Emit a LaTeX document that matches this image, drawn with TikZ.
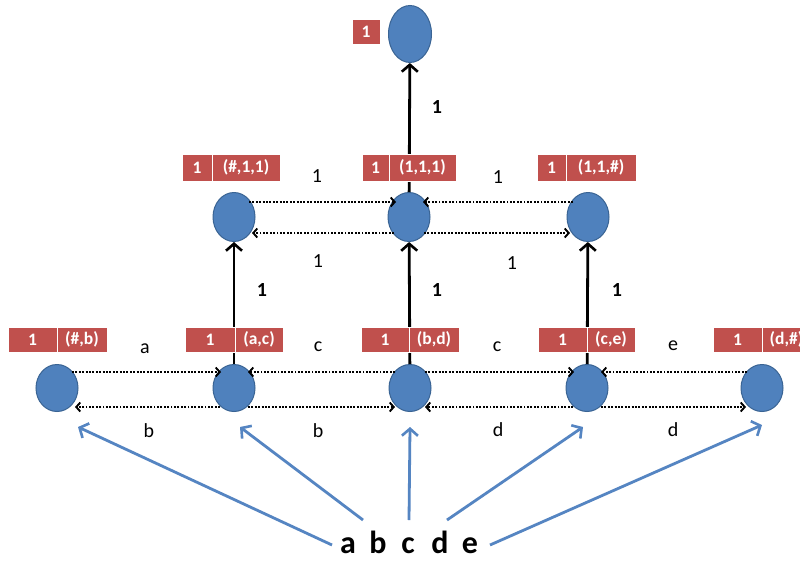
\documentclass[tikz,border=0pt]{standalone}
\usepackage{fontspec}
\setmainfont{Carlito}
\usetikzlibrary{arrows.meta,shapes.geometric}
\definecolor{nodeblue}{HTML}{4F81BD}
\definecolor{nodeedge}{HTML}{3A6494}
\definecolor{tagred}{HTML}{C0504D}
\definecolor{inputblue}{HTML}{5585C2}

% one red tag with two cells: name, left x, split x, right x, centre y, height, right text
\newcommand\maketag[7]{%
  \node[tag, minimum width={(#3-#2)*1pt}, minimum height=#6pt] (#1l) at ({(#2+#3)/2},#5) {1};
  \node[tag, minimum width={(#4-#3)*1pt}, minimum height=#6pt] (#1r) at ({(#3+#4)/2},#5) {#7};
}

\begin{document}
\begin{tikzpicture}[x=1pt,y=-1pt,
  vertex/.style={ellipse, fill=nodeblue, draw=nodeedge, line width=1pt,
    minimum width=42pt, minimum height=47pt, inner sep=0pt},
  tag/.style={rectangle, fill=tagred, draw=white, line width=0.6pt, text=white,
    font=\bfseries\fontsize{17.5}{17.5}\selectfont, inner sep=0pt},
  msg/.style={line width=2.7pt, dash pattern=on 1.9pt off 1.5pt,
    -{Straight Barb[length=4pt,width=9pt,line width=1.9pt]}},
  lift/.style={line width=2.8pt, -{Straight Barb[length=7pt,width=16pt,line width=2.6pt]}},
  feed/.style={draw=inputblue, line width=2.8pt,
    -{Straight Barb[length=7pt,width=16pt,line width=2.6pt]}},
  lbl/.style={font=\fontsize{20}{20}\selectfont, inner sep=0pt},
  blbl/.style={font=\bfseries\fontsize{20}{20}\selectfont, inner sep=0pt},
  letter/.style={font=\bfseries\fontsize{32}{32}\selectfont, inner sep=0pt, anchor=base}]

\useasboundingbox (0,0) rectangle (800,560);
\fill[white] (0,0) rectangle (800,560);
\clip (0,0) rectangle (800,560);

% vertices
\node[vertex] (n0) at (57,388) {};
\node[vertex] (n1) at (234,388) {};
\node[vertex] (n2) at (410,388) {};
\node[vertex] (n3) at (587,388) {};
\node[vertex] (n4) at (762,388) {};
\node[vertex, minimum height=49pt] (m0) at (234,217) {};
\node[vertex, minimum height=49pt] (m1) at (409,217) {};
\node[vertex, minimum height=49pt] (m2) at (588,217) {};
\node[vertex, minimum width=43pt, minimum height=57pt] (r) at (410,34) {};

% messages along the lower row
\draw[msg] ([shift={(15,-16)}]n0.center) -- ([shift={(-13,-16)}]n1.center);
\draw[msg] ([shift={(-15,-16)}]n2.center) -- ([shift={(14,-16)}]n1.center);
\draw[msg] ([shift={(15,-16)}]n2.center) -- ([shift={(-13,-16)}]n3.center);
\draw[msg] ([shift={(-15,-16)}]n4.center) -- ([shift={(14,-16)}]n3.center);
\draw[msg] ([shift={(-14,19)}]n1.center) -- ([shift={(18,19)}]n0.center);
\draw[msg] ([shift={(14,19)}]n1.center) -- ([shift={(-15,19)}]n2.center);
\draw[msg] ([shift={(-14,19)}]n3.center) -- ([shift={(15,19)}]n2.center);
\draw[msg] ([shift={(14,19)}]n3.center) -- ([shift={(-16,19)}]n4.center);

% messages along the middle row
\draw[msg] ([shift={(15,-15)}]m0.center) -- ([shift={(-13,-15)}]m1.center);
\draw[msg] ([shift={(-15,-15)}]m2.center) -- ([shift={(14,-15)}]m1.center);
\draw[msg] ([shift={(-15,16)}]m1.center) -- ([shift={(18,16)}]m0.center);
\draw[msg] ([shift={(15,16)}]m1.center) -- ([shift={(-18,16)}]m2.center);

% message labels
\node[lbl] (la1) at (145,349) {a};
\node[lbl] (lc1) at (318,347) {c};
\node[lbl] (lc2) at (497,347) {c};
\node[lbl] (le1) at (673,346) {e};
\node[lbl] (lb1) at (149,431) {b};
\node[lbl] (lb2) at (318,431) {b};
\node[lbl] (ld1) at (498,430) {d};
\node[lbl] (ld2) at (673,430) {d};
\node[lbl] (u1) at (317,176) {1};
\node[lbl] (u2) at (498,177) {1};
\node[lbl] (w1) at (318,261) {1};
\node[lbl] (w2) at (512,263) {1};

% upward aggregation
\draw[lift] (n1) -- (m0);
\draw[lift] (n2) -- (m1);
\draw[lift] (n3) -- (m2);
\draw[lift] (m1) -- (r);
\node[blbl] (k1) at (262,290) {1};
\node[blbl] (k2) at (437,290) {1};
\node[blbl] (k3) at (617,290) {1};
\node[blbl] (k4) at (437,107) {1};

% tags
\maketag{t0}{8}{57}{107}{339.5}{25}{(\#,b)}
\maketag{t1}{185}{235}{283}{339.5}{25}{(a,c)}
\maketag{t2}{361}{409}{459}{339.5}{25}{(b,d)}
\maketag{t3}{538}{587}{635}{339.5}{25}{(c,e)}
\maketag{t4}{713}{762}{811}{339.5}{25}{(d,\#)}
\maketag{s0}{182}{212}{280}{167.5}{27}{(\#,1,1)}
\maketag{s1}{362}{389}{456}{167.5}{27}{(1,1,1)}
\maketag{s2}{537}{566}{636}{167.5}{27}{(1,1,\#)}
\node[tag, minimum width=28pt, minimum height=25pt] (top) at (366,31.5) {1};

% input string
\node[letter] (ia) at (348,553) {a};
\node[letter] (ib) at (378,553) {b};
\node[letter] (ic) at (408,553) {c};
\node[letter] (id) at (440,553) {d};
\node[letter] (ie) at (470,553) {e};

\draw[feed] ([shift={(-16,-8)}]ia.base) -- ([shift={(21,39)}]n0.center);
\draw[feed] ([shift={(-15,-33)}]ib.base) -- ([shift={(6,39)}]n1.center);
\draw[feed] ([shift={(1,-33)}]ic.base) -- ([shift={(0,39)}]n2.center);
\draw[feed] ([shift={(7,-33)}]id.base) -- ([shift={(-4,39)}]n3.center);
\draw[feed] ([shift={(20,-8)}]ie.base) -- ([shift={(0,37)}]n4.center);
\end{tikzpicture}
\end{document}
